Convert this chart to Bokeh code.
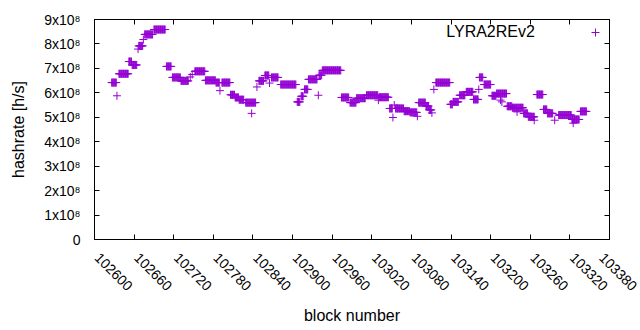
import math
import numpy as np
from bokeh.plotting import figure
from bokeh.models import (Range1d, LinearAxis, FixedTicker, CustomJSTickFormatter,
                          Label, Legend, LegendItem)
from bokeh.core.properties import value
from bokeh.embed import file_html
from bokeh.resources import INLINE

FONT = "Liberation Sans"
PURPLE = "#9400d3"

series_name = "LYRA2REv2"

# runs of consecutive blocks that share one hashrate value
run_first = [102626, 102634, 102637, 102652, 102657, 102666, 102667, 102674, 102676, 102690,
             102709, 102718, 102731, 102745, 102748, 102752, 102768, 102784, 102790, 102793,
             102806, 102813, 102819, 102829, 102838, 102846, 102849, 102858, 102865, 102868,
             102882, 102907, 102913, 102918, 102924, 102939, 102940, 102945, 102974, 102987,
             102997, 103012, 103030, 103031, 103047, 103052, 103054, 103056, 103069, 103078,
             103089, 103091, 103102, 103107, 103111, 103114, 103117, 103139, 103143, 103153,
             103163, 103174, 103182, 103183, 103190, 103202, 103209, 103215, 103217, 103225,
             103233, 103240, 103250, 103257, 103266, 103270, 103280, 103286, 103297, 103303,
             103323, 103325, 103336]
run_last = [102633, 102634, 102651, 102656, 102664, 102666, 102673, 102674, 102688, 102707,
            102716, 102730, 102742, 102745, 102748, 102767, 102783, 102789, 102790, 102805,
            102812, 102818, 102826, 102844, 102838, 102846, 102856, 102864, 102865, 102878,
            102905, 102911, 102916, 102923, 102937, 102939, 102944, 102973, 102985, 102996,
            103010, 103029, 103030, 103045, 103051, 103052, 103054, 103068, 103077, 103088,
            103089, 103101, 103106, 103110, 103111, 103114, 103138, 103142, 103151, 103161,
            103173, 103181, 103182, 103188, 103200, 103208, 103224, 103215, 103217, 103232,
            103249, 103240, 103256, 103266, 103266, 103279, 103285, 103294, 103297, 103322,
            103334, 103325, 103345]
run_hashrate = [6.42e8, 5.88e8, 6.78e8, 7.28e8, 7.14e8, 7.79e8, 7.92e8, 8.18e8, 8.39e8, 8.59e8,
                7.08e8, 6.63e8, 6.49e8, 6.65e8, 6.75e8, 6.88e8, 6.51e8, 6.42e8, 6.09e8, 6.42e8,
                5.92e8, 5.81e8, 5.72e8, 5.60e8, 5.16e8, 6.24e8, 6.49e8, 6.71e8, 6.40e8, 6.63e8,
                6.34e8, 5.63e8, 5.86e8, 6.14e8, 6.55e8, 5.90e8, 6.72e8, 6.92e8, 5.81e8, 5.60e8,
                5.78e8, 5.90e8, 5.70e8, 5.82e8, 5.36e8, 4.99e8, 5.50e8, 5.36e8, 5.25e8, 5.20e8,
                5.04e8, 5.60e8, 5.46e8, 5.30e8, 5.18e8, 6.14e8, 6.42e8, 5.53e8, 5.63e8, 5.90e8,
                6.04e8, 5.73e8, 6.14e8, 6.63e8, 6.34e8, 5.88e8, 5.97e8, 5.70e8, 5.63e8, 5.45e8,
                5.39e8, 5.22e8, 5.16e8, 5.02e8, 4.88e8, 5.93e8, 5.32e8, 5.16e8, 4.88e8, 5.09e8,
                4.91e8, 4.76e8, 5.24e8]

x_tick_values = [102600, 102660, 102720, 102780, 102840, 102900, 102960,
                 103020, 103080, 103140, 103200, 103260, 103320, 103380]
x_tick_labels = ["102600", "102660", "102720", "102780", "102840", "102900", "102960",
                 "103020", "103080", "103140", "103200", "103260", "103320", "103380"]
y_tick_values = [0, 1e8, 2e8, 3e8, 4e8, 5e8, 6e8, 7e8, 8e8, 9e8]
y_tick_labels = ["0", "1x10\u2078", "2x10\u2078", "3x10\u2078", "4x10\u2078", "5x10\u2078",
                 "6x10\u2078", "7x10\u2078", "8x10\u2078", "9x10\u2078"]

blocks = np.concatenate([np.arange(a, b + 1) for a, b in zip(run_first, run_last)])
hashrate = np.concatenate([np.full(b - a + 1, v)
                           for a, b, v in zip(run_first, run_last, run_hashrate)])

p = figure(width=640, height=330, output_backend="svg", toolbar_location=None,
           x_range=Range1d(102600, 103380), y_range=Range1d(0, 9e8),
           min_border_left=94, min_border_right=31, min_border_top=19, min_border_bottom=91,
           x_axis_label="block number", y_axis_label="hashrate [h/s]")
p.grid.visible = False
p.outline_line_color = "black"
p.outline_line_width = 1
p.background_fill_color = "white"
p.border_fill_color = "white"

r = p.scatter(blocks, hashrate, marker="cross", size=8, line_color=PURPLE, line_width=1)

blank = CustomJSTickFormatter(code="return ''")

def style_axis(ax):
    ax.major_tick_in = 5
    ax.major_tick_out = 0
    ax.minor_tick_line_color = None
    ax.axis_line_color = "black"
    ax.major_tick_line_color = "black"
    ax.axis_label_text_font = FONT
    ax.axis_label_text_font_size = "16px"
    ax.axis_label_text_font_style = "normal"
    ax.axis_label_text_color = "black"
    ax.major_label_text_font = FONT
    ax.major_label_text_font_size = "14px"
    ax.major_label_text_color = "black"

xa = p.xaxis[0]
style_axis(xa)
xa.ticker = FixedTicker(ticks=x_tick_values)
# a leading no-break space nudges each slanted label along its direction, like gnuplot's
xa.major_label_overrides = {v: "\u00a0" + t for v, t in zip(x_tick_values, x_tick_labels)}
xa.major_label_orientation = -math.pi / 4
xa.major_label_standoff = 13
xa.axis_label_standoff = 4

ya = p.yaxis[0]
style_axis(ya)
ya.ticker = FixedTicker(ticks=y_tick_values)
ya.major_label_overrides = dict(zip(y_tick_values, y_tick_labels))
ya.major_label_standoff = 14
ya.axis_label_standoff = 14

top = LinearAxis(ticker=FixedTicker(ticks=x_tick_values), formatter=blank)
style_axis(top)
top.major_label_standoff = 0
p.add_layout(top, "above")

right = LinearAxis(ticker=FixedTicker(ticks=y_tick_values), formatter=blank)
style_axis(right)
right.major_label_standoff = 0
p.add_layout(right, "right")

# key: text on the left, sample marker on the right (gnuplot style)
legend = Legend(items=[LegendItem(label=value(""), renderers=[r])],
                location=(491, 197), margin=0, padding=0, spacing=0,
                label_standoff=0, label_width=0, glyph_width=20, glyph_height=20,
                border_line_alpha=0, background_fill_alpha=0)
p.add_layout(legend)
p.add_layout(Label(x=103267, y=8.52e8, text=series_name, text_align="right",
                   text_baseline="middle", text_font=FONT,
                   text_font_size="16px", text_color="black"))

open("out.html", "w").write(file_html(p, INLINE))
